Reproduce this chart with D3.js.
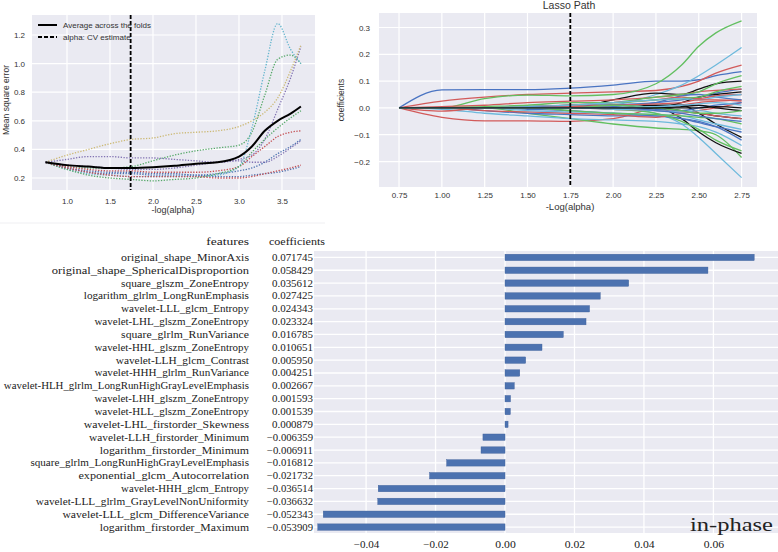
<!DOCTYPE html>
<html>
<head>
<meta charset="utf-8">
<script src="https://cdn.jsdelivr.net/npm/d3@7"></script>
<style>
  body { margin: 0; background: #fff; }
  svg { display: block; }
</style>
</head>
<body>
<div id="wrapper"></div>
<script>

// ---- cross-validation panel (top left) ----
const foldAlphas = [0.75, 1.0, 1.25, 1.5, 1.75, 2.0, 2.25, 2.5, 2.75, 3.0, 3.15, 3.3, 3.45, 3.6, 3.72];
const foldMse = [
  [0.31, 0.27, 0.25, 0.24, 0.24, 0.23, 0.23, 0.22, 0.23, 0.25, 0.27, 0.31, 0.37, 0.42, 0.47],
  [0.31, 0.28, 0.27, 0.27, 0.28, 0.32, 0.36, 0.39, 0.41, 0.43, 0.52, 0.78, 1.03, 1.06, 1.00],
  [0.31, 0.28, 0.26, 0.25, 0.25, 0.24, 0.24, 0.24, 0.25, 0.28, 0.35, 0.42, 0.49, 0.52, 0.53],
  [0.31, 0.33, 0.35, 0.35, 0.34, 0.34, 0.33, 0.32, 0.31, 0.33, 0.36, 0.47, 0.68, 0.90, 1.12],
  [0.31, 0.36, 0.40, 0.44, 0.47, 0.48, 0.51, 0.52, 0.53, 0.56, 0.60, 0.66, 0.76, 0.95, 1.13],
  [0.31, 0.26, 0.23, 0.22, 0.21, 0.21, 0.21, 0.21, 0.22, 0.28, 0.55, 0.95, 1.28, 1.10, 1.00],
  [0.31, 0.27, 0.24, 0.23, 0.23, 0.22, 0.22, 0.22, 0.21, 0.21, 0.22, 0.23, 0.24, 0.26, 0.28],
  [0.31, 0.26, 0.22, 0.20, 0.19, 0.18, 0.19, 0.20, 0.23, 0.28, 0.38, 0.47, 0.55, 0.62, 0.67],
  [0.31, 0.27, 0.24, 0.22, 0.21, 0.21, 0.21, 0.21, 0.20, 0.20, 0.21, 0.23, 0.25, 0.27, 0.29],
  [0.31, 0.29, 0.28, 0.27, 0.26, 0.26, 0.27, 0.29, 0.31, 0.32, 0.31, 0.31, 0.35, 0.41, 0.46]
];
const avgMse = [0.31, 0.29, 0.28, 0.27, 0.27, 0.275, 0.285, 0.30, 0.31, 0.35, 0.42, 0.53, 0.60, 0.65, 0.70];
const cvAlpha = 1.74;
const mseXTicks = [1.0, 1.5, 2.0, 2.5, 3.0, 3.5];
const mseYTicks = [0.2, 0.4, 0.6, 0.8, 1.0, 1.2];

// ---- lasso path panel (top right) ----
const lassoAlphas = [0.75, 1.0, 1.25, 1.5, 1.75, 2.0, 2.25, 2.4, 2.5, 2.6, 2.75];
const lassoBlue = [
  [0, 0.067, 0.068, 0.068, 0.074, 0.085, 0.10, 0.10, 0.105, 0.12, 0.135],
  [0, 0, 0, 0.005, 0.01, 0.012, 0.02, 0.03, 0.04, 0.055, 0.07],
  [0, 0, 0, -0.005, -0.01, -0.02, -0.03, -0.04, -0.05, -0.07, -0.12],
  [0, 0, -0.01, -0.02, -0.025, -0.03, -0.03, -0.04, -0.055, -0.07, -0.09],
  [0, 0, 0, 0, 0, 0.005, 0.02, 0.045, 0.05, 0.04, 0.03],
  [0, 0, 0, 0, 0, 0, -0.005, -0.01, 0.0, 0.01, 0.02],
  [0, 0, 0, 0.002, 0.005, 0.003, -0.01, -0.02, -0.03, -0.04, -0.05]
];
const lassoRed = [
  [0, 0.025, 0.04, 0.05, 0.055, 0.06, 0.065, 0.08, 0.10, 0.13, 0.16],
  [0, -0.035, -0.048, -0.048, -0.05, -0.04, 0.0, 0.01, 0.02, 0.025, 0.03],
  [0, 0.005, 0.01, 0.02, 0.025, 0.03, 0.04, 0.05, 0.06, 0.065, 0.07],
  [0, 0, -0.01, -0.015, -0.02, -0.025, -0.035, -0.02, -0.01, 0.0, 0.02],
  [0, 0, 0, 0.005, 0.01, 0.02, 0.03, 0.04, 0.035, 0.045, 0.05],
  [0, -0.012, 0, 0, 0, -0.005, -0.01, -0.015, -0.02, -0.03, -0.04],
  [0, 0, 0, 0, 0.005, 0.01, 0.015, 0.02, 0.03, 0.03, 0.025]
];
const lassoGreen = [
  [0, 0, 0.035, 0.048, 0.045, 0.05, 0.09, 0.16, 0.23, 0.28, 0.325],
  [0, 0, 0, -0.02, -0.04, -0.06, -0.075, -0.08, -0.085, -0.10, -0.185],
  [0, 0, 0, 0.005, 0.01, 0.02, 0.04, 0.05, 0.06, 0.09, 0.12],
  [0, 0, 0, 0, 0, -0.005, -0.02, -0.05, -0.08, -0.12, -0.16],
  [0, 0, 0.005, 0.01, 0.02, 0.02, 0.03, 0.035, 0.04, 0.06, 0.08],
  [0, 0, 0, 0, -0.01, -0.02, -0.025, -0.03, -0.035, -0.04, -0.06],
  [0, 0, 0, 0, 0, 0.01, 0.0, -0.01, -0.02, -0.02, -0.01]
];
const lassoCyan = [
  [0, 0, 0, 0, 0, 0.01, 0.05, 0.085, 0.12, 0.16, 0.225],
  [0, 0, 0, 0, 0, 0, -0.02, -0.06, -0.11, -0.17, -0.26],
  [0, -0.005, -0.02, -0.03, -0.04, -0.045, -0.05, -0.06, -0.07, -0.09, -0.14],
  [0, 0, 0, -0.01, -0.015, -0.02, -0.025, -0.03, -0.045, -0.06, -0.08],
  [0, 0, 0, 0.005, 0.01, 0.02, 0.03, 0.035, 0.03, 0.04, 0.05],
  [0, 0, 0, 0, 0, -0.005, -0.01, -0.015, -0.01, -0.02, -0.03],
  [0, 0, 0, 0, 0, 0, 0.005, 0.01, 0.015, 0.02, 0.01]
];
const lassoBlack = [
  [0, 0, 0, 0, 0, 0.03, 0.055, 0.05, 0.07, 0.09, 0.10],
  [0, 0, 0, 0, 0, 0, 0.0, -0.04, -0.09, -0.13, -0.17],
  [0, 0, 0, 0, 0, 0, 0.01, 0.01, -0.02, -0.06, -0.11],
  [0, 0, 0, 0, 0, 0, 0, 0.02, 0.04, 0.05, 0.06],
  [0, 0, 0, 0, 0, 0, 0, -0.01, -0.02, -0.03, -0.04],
  [0, 0, 0, 0, 0, 0, 0, 0.005, 0.01, 0.0, -0.01],
  [0, 0, 0, 0, 0, 0, 0, 0, 0, 0.005, 0.0]
];
const lassoXTicks = [0.75, 1.0, 1.25, 1.5, 1.75, 2.0, 2.25, 2.5, 2.75];
const lassoYTicks = [-0.2, -0.1, 0.0, 0.1, 0.2, 0.3];

// ---- selected features (bottom) ----
const featureNames = [
  "original_shape_MinorAxis",
  "original_shape_SphericalDisproportion",
  "square_glszm_ZoneEntropy",
  "logarithm_glrlm_LongRunEmphasis",
  "wavelet-LLL_glcm_Entropy",
  "wavelet-LHL_glszm_ZoneEntropy",
  "square_glrlm_RunVariance",
  "wavelet-HHL_glszm_ZoneEntropy",
  "wavelet-LLH_glcm_Contrast",
  "wavelet-HHH_glrlm_RunVariance",
  "wavelet-HLH_glrlm_LongRunHighGrayLevelEmphasis",
  "wavelet-LHH_glszm_ZoneEntropy",
  "wavelet-HLL_glszm_ZoneEntropy",
  "wavelet-LHL_firstorder_Skewness",
  "wavelet-LLH_firstorder_Minimum",
  "logarithm_firstorder_Minimum",
  "square_glrlm_LongRunHighGrayLevelEmphasis",
  "exponential_glcm_Autocorrelation",
  "wavelet-HHH_glcm_Entropy",
  "wavelet-LLL_glrlm_GrayLevelNonUniformity",
  "wavelet-LLL_glcm_DifferenceVariance",
  "logarithm_firstorder_Maximum"
];
const featureCoefs = [
  0.071745, 0.058429, 0.035612, 0.027425, 0.024343, 0.023324, 0.016785, 0.010651,
  0.005950, 0.004251, 0.002667, 0.001593, 0.001539, 0.000879, -0.006359, -0.006911,
  -0.016812, -0.021732, -0.036514, -0.036632, -0.052343, -0.053909
];
const coefTicks = [-0.04, -0.02, 0.00, 0.02, 0.04, 0.06];

const foldColors = ["#4C72B0", "#55A868", "#C44E52", "#8172B2", "#CCB974", "#64B5CD"];
const lassoColors = {blue: "#4a74c2", red: "#d25a5a", green: "#62bf60", cyan: "#6db9dc", black: "#111111"};

const sansFont = "'Liberation Sans', Arial, sans-serif";
const serifFont = "'Liberation Serif', 'Times New Roman', serif";

let svg = d3.select("#wrapper")
            .append("svg")
            .attr("width", 778)
            .attr("height", 552);

svg.append("rect").attr("width", 778).attr("height", 552).attr("fill", "#fff");

function drawFrame(xScale, yScale, xTicks, yTicks) {
    let [x0, x1] = xScale.range();
    let [y0, y1] = yScale.range();
    let g = svg.append("g");
    g.append("rect")
        .attr("x", x0).attr("y", Math.min(y0, y1))
        .attr("width", x1 - x0).attr("height", Math.abs(y0 - y1))
        .attr("fill", "#EAEAF2");
    g.selectAll(".vgrid").data(xTicks).enter().append("line")
        .attr("x1", d => xScale(d)).attr("x2", d => xScale(d))
        .attr("y1", y0).attr("y2", y1)
        .attr("stroke", "#fff").attr("stroke-width", 1.2);
    g.selectAll(".hgrid").data(yTicks).enter().append("line")
        .attr("y1", d => yScale(d)).attr("y2", d => yScale(d))
        .attr("x1", x0).attr("x2", x1)
        .attr("stroke", "#fff").attr("stroke-width", 1.2);
}

function styleAxis(g, font, size, color) {
    g.select(".domain").remove();
    g.selectAll("text")
        .attr("fill", color || "#333")
        .style("font-family", font)
        .style("font-size", size + "px");
}

// ================= top left =================
let xMse = d3.scaleLinear().domain([0.593, 3.884]).range([32, 315]);
let yMse = d3.scaleLinear().domain([0.116, 1.340]).range([190, 15]);

drawFrame(xMse, yMse, mseXTicks, mseYTicks);

svg.append("g")
    .attr("transform", "translate(0,190)")
    .call(d3.axisBottom(xMse).tickValues(mseXTicks).tickSize(0).tickPadding(8).tickFormat(d3.format(".1f")))
    .call(g => styleAxis(g, sansFont, 8));

svg.append("g")
    .attr("transform", "translate(32,0)")
    .call(d3.axisLeft(yMse).tickValues(mseYTicks).tickSize(0).tickPadding(7).tickFormat(d3.format(".1f")))
    .call(g => styleAxis(g, sansFont, 8));

const mseLine = d3.line()
    .x((d, i) => xMse(foldAlphas[i]))
    .y(d => yMse(d))
    .curve(d3.curveMonotoneX);

svg.append("g")
    .selectAll("path")
    .data(foldMse)
    .enter()
    .append("path")
    .attr("d", d => mseLine(d))
    .attr("fill", "none")
    .attr("stroke", (d, i) => foldColors[i % foldColors.length])
    .attr("stroke-width", 1.3)
    .attr("stroke-dasharray", "1.3,1.5");

svg.append("path")
    .attr("d", mseLine(avgMse))
    .attr("fill", "none")
    .attr("stroke", "#000")
    .attr("stroke-width", 2);

svg.append("line")
    .attr("x1", xMse(cvAlpha)).attr("x2", xMse(cvAlpha))
    .attr("y1", 15).attr("y2", 190)
    .attr("stroke", "#000").attr("stroke-width", 1.8)
    .attr("stroke-dasharray", "4,2");

let legend = svg.append("g");
legend.append("line").attr("x1", 38).attr("x2", 57).attr("y1", 25).attr("y2", 25)
    .attr("stroke", "#000").attr("stroke-width", 2);
legend.append("line").attr("x1", 38).attr("x2", 57).attr("y1", 37).attr("y2", 37)
    .attr("stroke", "#000").attr("stroke-width", 1.8).attr("stroke-dasharray", "4,2");
legend.selectAll("text")
    .data(["Average across the folds", "alpha: CV estimate"])
    .enter()
    .append("text")
    .attr("x", 63).attr("y", (d, i) => 28 + i * 12)
    .style("font-family", sansFont).style("font-size", "8px")
    .attr("fill", "#333")
    .text(d => d);

svg.append("text")
    .attr("x", 173).attr("y", 213)
    .attr("text-anchor", "middle")
    .style("font-family", sansFont).style("font-size", "9px")
    .attr("fill", "#333")
    .text("-log(alpha)");

svg.append("text")
    .attr("transform", "translate(9,100) rotate(-90)")
    .attr("text-anchor", "middle")
    .style("font-family", sansFont).style("font-size", "8.5px")
    .attr("fill", "#333")
    .text("Mean square error");

svg.append("line")
    .attr("x1", 0).attr("x2", 325).attr("y1", 223).attr("y2", 223)
    .attr("stroke", "#efeff2").attr("stroke-width", 1);

// ================= top right =================
let xLasso = d3.scaleLinear().domain([0.633, 2.84]).range([379, 757]);
let yLasso = d3.scaleLinear().domain([-0.295, 0.354]).range([187, 13]);

drawFrame(xLasso, yLasso, lassoXTicks, lassoYTicks);

svg.append("g")
    .attr("transform", "translate(0,187)")
    .call(d3.axisBottom(xLasso).tickValues(lassoXTicks).tickSize(0).tickPadding(5).tickFormat(d3.format(".2f")))
    .call(g => styleAxis(g, sansFont, 8));

svg.append("g")
    .attr("transform", "translate(379,0)")
    .call(d3.axisLeft(yLasso).tickValues(lassoYTicks).tickSize(0).tickPadding(9).tickFormat(d3.format(".1f")))
    .call(g => styleAxis(g, sansFont, 8));

const lassoLine = d3.line()
    .x((d, i) => xLasso(lassoAlphas[i]))
    .y(d => yLasso(d))
    .curve(d3.curveMonotoneX);

// draw in the b, r, g, c, k cycle order
let lassoPaths = [];
for (let j = 0; j < lassoBlue.length; j++) {
    lassoPaths.push({values: lassoBlue[j], color: lassoColors.blue});
    lassoPaths.push({values: lassoRed[j], color: lassoColors.red});
    lassoPaths.push({values: lassoGreen[j], color: lassoColors.green});
    lassoPaths.push({values: lassoCyan[j], color: lassoColors.cyan});
    lassoPaths.push({values: lassoBlack[j], color: lassoColors.black});
}

svg.append("g")
    .selectAll("path")
    .data(lassoPaths)
    .enter()
    .append("path")
    .attr("d", d => lassoLine(d.values))
    .attr("fill", "none")
    .attr("stroke", d => d.color)
    .attr("stroke-width", 1.3);

svg.append("line")
    .attr("x1", xLasso(1.75)).attr("x2", xLasso(1.75))
    .attr("y1", 13).attr("y2", 187)
    .attr("stroke", "#000").attr("stroke-width", 1.8)
    .attr("stroke-dasharray", "4,2");

svg.append("text")
    .attr("x", 569).attr("y", 9)
    .attr("text-anchor", "middle")
    .style("font-family", sansFont).style("font-size", "10.5px")
    .attr("fill", "#333")
    .text("Lasso Path");

svg.append("text")
    .attr("x", 570).attr("y", 210)
    .attr("text-anchor", "middle")
    .style("font-family", sansFont).style("font-size", "9.5px")
    .attr("fill", "#333")
    .text("-Log(alpha)");

svg.append("text")
    .attr("transform", "translate(344,100) rotate(-90)")
    .attr("text-anchor", "middle")
    .style("font-family", sansFont).style("font-size", "8.5px")
    .attr("fill", "#333")
    .text("coefficients");

// ================= bottom: table + bars =================
let xCoef = d3.scaleLinear().domain([-0.0550, 0.0786]).range([314, 778]);
let yFeat = d3.scaleBand()
              .domain(featureNames)
              .range([251, 533.5])
              .paddingInner(0.5)
              .paddingOuter(0.25);
let rowY = name => yFeat(name) + yFeat.bandwidth() / 2;

svg.append("rect")
    .attr("x", 314).attr("y", 251)
    .attr("width", 778 - 314).attr("height", 533 - 251)
    .attr("fill", "#EAEAF2");

svg.append("g")
    .selectAll("line")
    .data(coefTicks)
    .enter()
    .append("line")
    .attr("x1", d => xCoef(d)).attr("x2", d => xCoef(d))
    .attr("y1", 251).attr("y2", 533)
    .attr("stroke", "#fff").attr("stroke-width", 1.3);

svg.append("g")
    .selectAll("line")
    .data(featureNames)
    .enter()
    .append("line")
    .attr("x1", 314).attr("x2", 778)
    .attr("y1", d => rowY(d)).attr("y2", d => rowY(d))
    .attr("stroke", "#fff").attr("stroke-width", 1.3);

svg.append("g")
    .selectAll("rect")
    .data(featureNames)
    .enter()
    .append("rect")
    .attr("x", (d, i) => xCoef(Math.min(0, featureCoefs[i])))
    .attr("y", d => yFeat(d))
    .attr("width", (d, i) => Math.abs(xCoef(featureCoefs[i]) - xCoef(0)))
    .attr("height", yFeat.bandwidth())
    .attr("fill", "#4C72B0")
    .attr("stroke", "#3e5f99")
    .attr("stroke-width", 0.4);

svg.append("g")
    .attr("transform", "translate(0,533)")
    .call(d3.axisBottom(xCoef).tickValues(coefTicks).tickSize(0).tickPadding(8).tickFormat(d3.format(".2f")))
    .call(g => styleAxis(g, serifFont, 10, "#222"))
    .call(g => g.selectAll("text")
        .attr("textLength", function() { return this.textContent.length * 5.1; })
        .attr("lengthAdjust", "spacingAndGlyphs"));

const charW = 5.33;
let table = svg.append("g")
                .style("font-family", serifFont)
                .style("font-size", "10px")
                .attr("fill", "#222");

table.append("text")
    .attr("x", 249).attr("y", 245)
    .attr("text-anchor", "end")
    .attr("textLength", 8 * charW).attr("lengthAdjust", "spacingAndGlyphs")
    .text("features");

table.append("text")
    .attr("x", 269).attr("y", 245)
    .attr("textLength", 56).attr("lengthAdjust", "spacingAndGlyphs")
    .text("coefficients");

table.selectAll(".fname")
    .data(featureNames)
    .enter()
    .append("text")
    .attr("x", 249).attr("y", d => rowY(d) + 3.5)
    .attr("text-anchor", "end")
    .attr("textLength", d => d.length * charW).attr("lengthAdjust", "spacingAndGlyphs")
    .text(d => d);

table.selectAll(".fcoef")
    .data(featureCoefs)
    .enter()
    .append("text")
    .attr("x", 313).attr("y", (d, i) => rowY(featureNames[i]) + 3.5)
    .attr("text-anchor", "end")
    .attr("textLength", d => d3.format(".6f")(d).length * 5.13).attr("lengthAdjust", "spacingAndGlyphs")
    .text(d => d3.format(".6f")(d));

svg.append("text")
    .attr("x", 773).attr("y", 531)
    .attr("text-anchor", "end")
    .attr("textLength", 83).attr("lengthAdjust", "spacingAndGlyphs")
    .style("font-family", serifFont).style("font-size", "19px")
    .attr("fill", "#222")
    .text("in-phase");

</script>
</body>
</html>
